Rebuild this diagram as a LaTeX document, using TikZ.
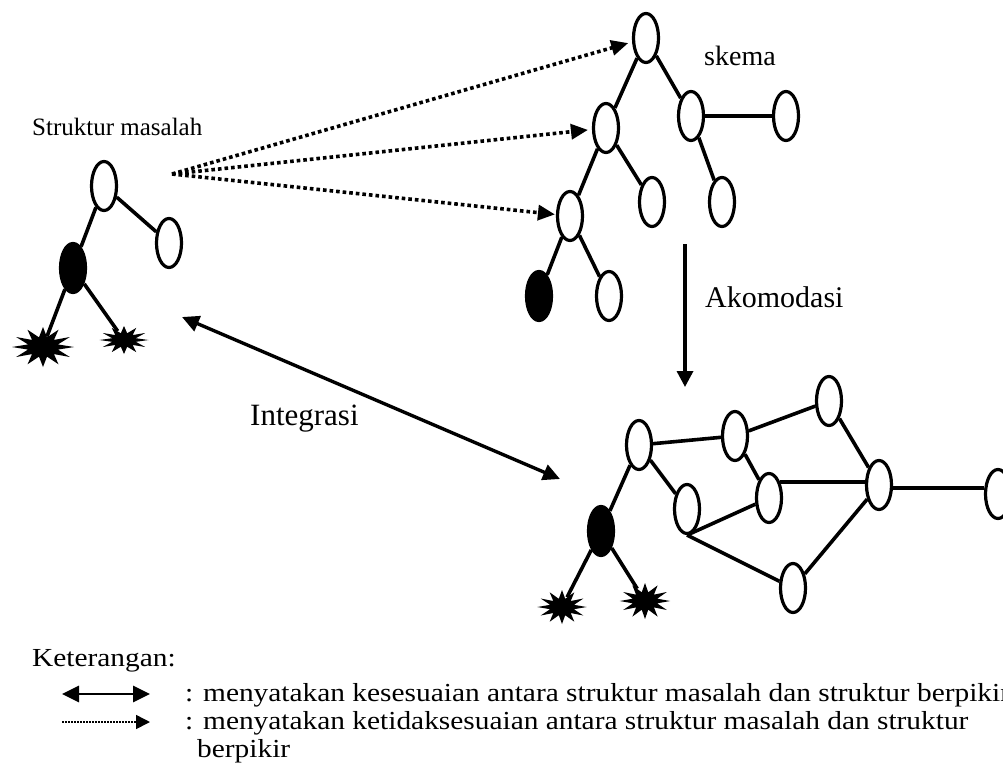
\documentclass[tikz,border=0pt]{standalone}
\usepackage{fontspec}
\setmainfont{Liberation Serif}
\newfontfamily\legendfont[FakeStretch=1.13]{Liberation Serif}
\usetikzlibrary{shapes.geometric,arrows.meta}
\begin{document}
\begin{tikzpicture}[x=1pt,y=-1pt,
  nd/.style={ellipse,draw,line width=3.2pt,minimum width=25pt,minimum height=49pt,inner sep=0pt,fill=white},
  fnd/.style={nd,fill=black},
  edge/.style={line width=3.6pt},
  burst/.style={star,star points=12,star point ratio=2,fill=black,inner sep=0pt,transform shape},
  dotarrow/.style={line width=3.6pt,dash pattern=on 3.6pt off 3pt,-{Triangle[length=17pt,width=15pt]},shorten >=4pt},
  solidarrow/.style={line width=3.4pt,-{Triangle[length=16pt,width=16pt]}},
  dblarrow/.style={line width=3.4pt,{Triangle[length=17pt,width=16pt]}-{Triangle[length=17pt,width=16pt]}},
  lbl/.style={inner sep=0pt,anchor=base west},
  lgfont/.style={font=\legendfont\fontsize{26}{30}\selectfont}
]
\useasboundingbox (0,0) rectangle (1003,769);

% ---------- left tree: Struktur masalah ----------
\node[lbl,font=\fontsize{25}{30}\selectfont] (tStruk) at (32,135) {Struktur masalah};
\node[nd] (L1) at (104,186) {};
\node[nd] (L2) at (169,243) {};
\node[fnd] (L3) at (73,268) {};
\begin{scope}[shift={(43,347)}]
  \node[burst,minimum size=40pt,xscale=1.55] (st1) at (0,0) {};
\end{scope}
\begin{scope}[shift={(124,340)}]
  \node[burst,minimum size=28pt,xscale=1.75] (st2) at (0,0) {};
\end{scope}
\draw[edge] (L1) -- (L3);
\draw[edge] (L1) -- (L2);
\draw[edge] (L3) -- (st1);
\draw[edge] (L3) -- (st2);

% ---------- skema tree ----------
\node[lbl,font=\fontsize{28}{32}\selectfont] (tSkema) at (704,65) {skema};
\node[nd] (S1) at (646,38) {};
\node[nd] (S2) at (606,128) {};
\node[nd] (S3) at (691,116) {};
\node[nd] (S4) at (786,116) {};
\node[nd] (S5) at (652,202) {};
\node[nd] (S6) at (722,202) {};
\node[nd] (S7) at (570,216) {};
\node[fnd] (S8) at (539,296) {};
\node[nd] (S9) at (609,296) {};
\draw[edge] (S1) -- (S2);
\draw[edge] (S1) -- (S3);
\draw[edge] (S3) -- (S4);
\draw[edge] (S3) -- (S6);
\draw[edge] (S2) -- (S7);
\draw[edge] (S2) -- (S5);
\draw[edge] (S7) -- (S8);
\draw[edge] (S7) -- (S9);

% ---------- dotted arrows ----------
\coordinate (src) at (172,174);
\draw[dotarrow] (src) -- (S1);
\draw[dotarrow] (src) -- (S2);
\draw[dotarrow,shorten >=1pt] (src) -- (S7);

% ---------- Akomodasi ----------
\coordinate (akTop) at (685,244);
\coordinate (akBot) at (685,387);
\draw[solidarrow] (akTop) -- (akBot);
\node[lbl,font=\fontsize{30}{34}\selectfont] (tAko) at (705,307) {Akomodasi};

% ---------- lower graph ----------
\node[nd] (N1) at (639,445) {};
\node[nd] (N2) at (735,436) {};
\node[nd] (N3) at (829,401) {};
\node[nd] (N4) at (687,509) {};
\node[nd] (N5) at (769,498) {};
\node[nd] (N6) at (879,485) {};
\node[nd] (N7) at (998,494) {};
\node[nd] (N8) at (793,588) {};
\node[fnd] (F) at (601,531) {};
\begin{scope}[shift={(562,607)}]
  \node[burst,minimum size=34pt,xscale=1.45] (st3) at (0,0) {};
\end{scope}
\begin{scope}[shift={(645,601)}]
  \node[burst,minimum size=36pt,xscale=1.4] (st4) at (0,0) {};
\end{scope}
\draw[edge] (N1) -- (N2);
\draw[edge] (N2) -- (N3);
\draw[edge] (N3) -- (N6);
\draw[edge] (N2) -- (N5);
\draw[edge] (N5.55) -- (N5.55 -| N6.west);
\draw[edge] (N6.-12) -- (N6.-12 -| N7.west);
\draw[edge] (N1) -- (N4);
\draw[edge] (N4.south) -- (N5);
\draw[edge] (N4.south) -- (N8);
\draw[edge] (N8) -- (N6);
\draw[edge] (N1) -- (F);
\draw[edge] (F) -- (st3);
\draw[edge] (F) -- (st4);

% ---------- Integrasi ----------
\coordinate (inL) at (182,317);
\coordinate (inR) at (560,479);
\draw[dblarrow] (inL) -- (inR);
\node[lbl,font=\fontsize{31}{35}\selectfont] (tInt) at (250,425) {Integrasi};

% ---------- legend ----------
\node[lbl,lgfont] (tKet) at (32,666) {Keterangan:};
\coordinate (lgA1) at (62,694);
\coordinate (lgA2) at (150,694);
\draw[dblarrow,line width=2.8pt] (lgA1) -- (lgA2);
\coordinate (lgB1) at (62,722);
\coordinate (lgB2) at (150,722);
\draw[line width=1.6pt,dash pattern=on 1.6pt off 1.4pt,-{Triangle[length=14pt,width=14pt]}] (lgB1) -- (lgB2);
\node[lbl,lgfont] (tL1) at (185,701) {: menyatakan kesesuaian antara struktur masalah dan struktur berpikir};
\node[lbl,lgfont] (tL2) at (185,729) {: menyatakan ketidaksesuaian antara struktur masalah dan struktur};
\node[lbl,lgfont] (tL3) at (197,757) {berpikir};
\end{tikzpicture}
\end{document}
